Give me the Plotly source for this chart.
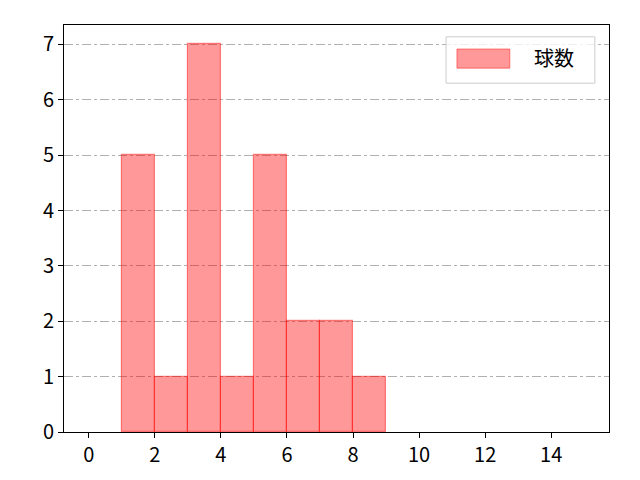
import plotly.graph_objects as go

bin_left = [1, 2, 3, 4, 5, 6, 7, 8]
counts = [5, 1, 7, 1, 5, 2, 2, 1]
x_ticks = [0, 2, 4, 6, 8, 10, 12, 14]
y_ticks = [0, 1, 2, 3, 4, 5, 6, 7]
series_name = '球数'

FONT = 'Noto Sans CJK JP'
FILL = 'rgba(255,0,0,0.4)'
EDGE = 'rgba(255,0,0,0.45)'

fig = go.Figure()
fig.add_trace(go.Bar(
    x=bin_left, y=counts,
    offset=0, width=1,
    name=series_name,
    marker=dict(color=FILL, line=dict(color=EDGE, width=1.2)),
    showlegend=False,
))

# matplotlib-style legend box (wide patch) drawn by hand
fig.add_shape(type='rect', xref='paper', yref='paper',
              x0=0.701, x1=0.974, y0=0.857, y1=0.971,
              line=dict(color='#cccccc', width=1), fillcolor='rgba(255,255,255,0.8)')
fig.add_shape(type='rect', xref='paper', yref='paper',
              x0=0.721, x1=0.818, y0=0.894, y1=0.941,
              line=dict(color=EDGE, width=1), fillcolor=FILL)
fig.add_annotation(xref='paper', yref='paper', x=0.859, y=0.919,
                   xanchor='left', yanchor='middle', showarrow=False,
                   text=series_name, font=dict(size=20, family=FONT, color='black'))

fig.update_layout(
    width=640, height=480,
    margin=dict(l=56, r=39, t=17, b=56),
    plot_bgcolor='white', paper_bgcolor='white',
    font=dict(family=FONT, size=20, color='black'),
    bargap=0,
)
axis_common = dict(showline=True, linecolor='black', linewidth=1, mirror=True,
                   ticks='outside', ticklen=5, tickcolor='black', zeroline=False)
fig.update_xaxes(range=[-0.75, 15.75], tickvals=x_ticks, showgrid=False, **axis_common)
fig.update_yaxes(range=[0, 7.35], tickvals=y_ticks, showgrid=True,
                 gridcolor='#b0b0b0', griddash='dashdot', gridwidth=1, **axis_common)

fig.write_html('out.html')
